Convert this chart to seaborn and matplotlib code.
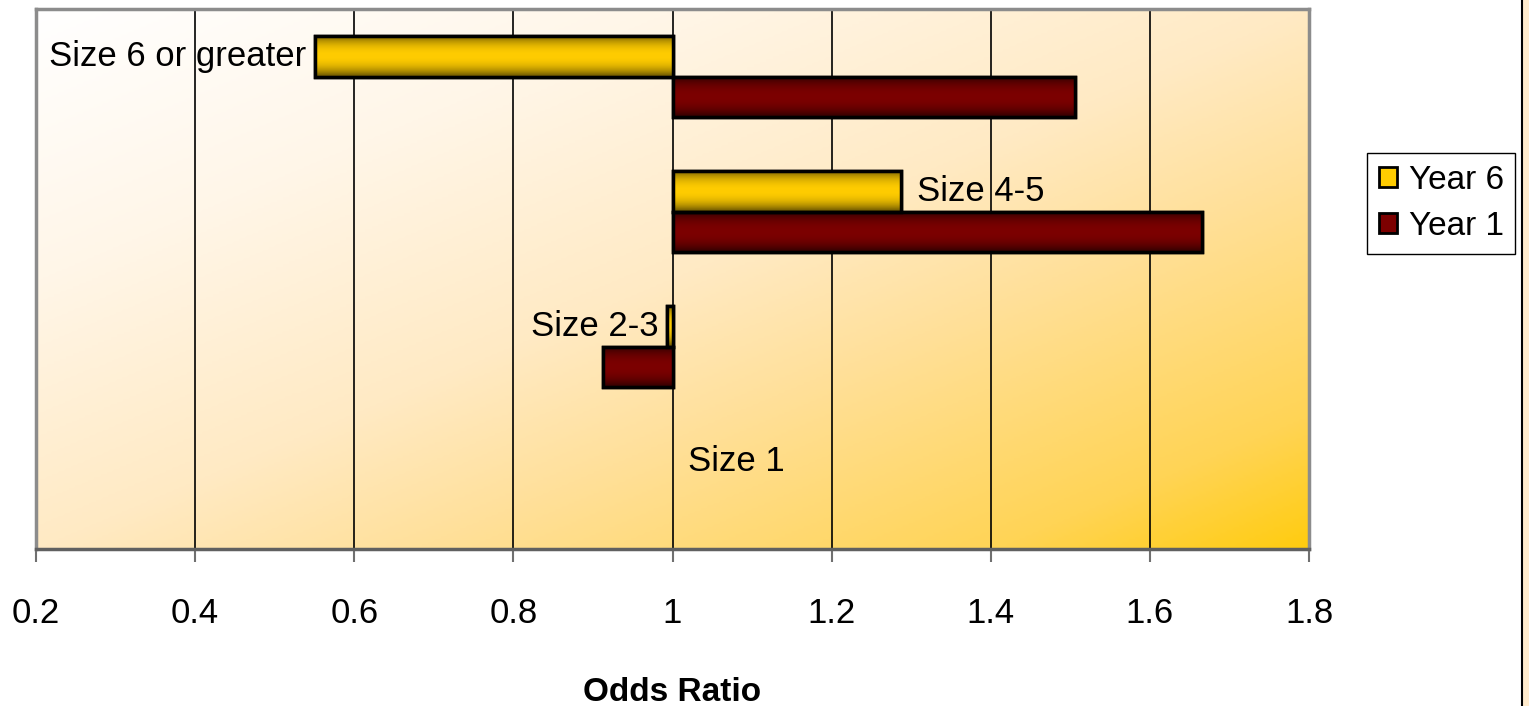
import numpy as np
import pandas as pd
import matplotlib
matplotlib.use("Agg")
import matplotlib.pyplot as plt
import seaborn as sns
from matplotlib.colors import LinearSegmentedColormap, to_rgb
from matplotlib.patches import Rectangle
from matplotlib.lines import Line2D

# ---- data -------------------------------------------------------------
categories = ["Size 6 or greater", "Size 4-5", "Size 2-3", "Size 1"]
series = ["Year 6", "Year 1"]
year6_or = [0.551, 1.287, 0.993, 1.0]
year1_or = [1.506, 1.666, 0.913, 1.0]
baseline = 1.0
xticks = [0.2, 0.4, 0.6, 0.8, 1.0, 1.2, 1.4, 1.6, 1.8]
xtick_labels = ["0.2", "0.4", "0.6", "0.8", "1", "1.2", "1.4", "1.6", "1.8"]

df = pd.DataFrame({
    "group": categories * 2,
    "series": [series[0]] * len(categories) + [series[1]] * len(categories),
    "odds": year6_or + year1_or,
})
df["span"] = df["odds"] - baseline

# ---- style ------------------------------------------------------------
sns.set_theme(style="white")
plt.rcParams["font.family"] = ["Liberation Sans", "DejaVu Sans"]
plt.rcParams["text.color"] = "black"

FS = 25
W, H = 1529, 706
fig = plt.figure(figsize=(W / 100, H / 100), dpi=100)
fig.patch.set_facecolor("white")
ax = fig.add_axes([36 / W, 1 - 549 / H, 1273 / W, 540 / H])

bar_colors = {"Year 6": ("#FFCC00", "#6E5800"), "Year 1": ("#7C0000", "#2E0000")}

sns.barplot(
    data=df, y="group", x="span", hue="series",
    order=categories, hue_order=series,
    palette={k: v[0] for k, v in bar_colors.items()},
    left=baseline, width=0.6, orient="h", errorbar=None,
    edgecolor="black", linewidth=2.5, legend=False, ax=ax,
)

# ---- shaded bar fills ---------------------------------------------------
def shade(center, edge, n=64):
    c = np.array(to_rgb(center))
    e = np.array(to_rgb(edge))
    t = np.linspace(-1, 1, n)
    w = 1 - np.abs(t) ** 2.2
    return (e[None, :] * (1 - w[:, None]) + c[None, :] * w[:, None])[:, None, :]

bars = [p for p in ax.patches if isinstance(p, Rectangle)]
n_cat = len(categories)
for k, p in enumerate(bars):
    name = series[k // n_cat]
    x0, w = p.get_x(), p.get_width()
    y0, h = p.get_y(), p.get_height()
    if abs(w) < 1e-9:
        p.set_visible(False)
        continue
    img = ax.imshow(shade(*bar_colors[name]), extent=[min(x0, x0 + w), max(x0, x0 + w), y0 + h, y0],
                    aspect="auto", zorder=p.get_zorder() + 0.1, interpolation="bilinear")
    img.set_clip_path(p)
    ax.add_patch(Rectangle((x0, y0), w, h, fill=False, edgecolor="black",
                           linewidth=2.5, zorder=p.get_zorder() + 0.2))

# ---- category labels beside the Year 6 bars ------------------------------
for k, (cat, v) in enumerate(zip(categories, year6_or)):
    p = bars[k]
    yc = p.get_y() + p.get_height() / 2
    if v < baseline:
        ax.text(v - 0.011, yc, cat, ha="right", va="center", fontsize=FS, color="black", zorder=5)
    else:
        ax.text(v + 0.02, yc, cat, ha="left", va="center", fontsize=FS, color="black", zorder=5)

# ---- plot-area gradient (white top-left to gold bottom-right) ------------
bg = LinearSegmentedColormap.from_list("bg", [
    (0.00, "#FFFFFF"), (0.25, "#FFF6E8"), (0.50, "#FFEAC4"),
    (0.65, "#FFE09A"), (0.88, "#FFD455"), (1.00, "#FFCC10")])
u = np.linspace(0, 1, 400)[None, :]
v = np.linspace(0, 1, 200)[:, None]
t = (u + v) / 2
ax.imshow(bg(t), extent=[0, 1, 0, 1], origin="upper", transform=ax.transAxes,
          aspect="auto", zorder=-2, interpolation="bilinear")

# ---- axes -------------------------------------------------------------
ax.set_xlim(0.2, 1.8)
ax.set_ylim(len(categories) - 0.5, -0.5)
ax.set_xticks(xticks)
ax.set_xticklabels(xtick_labels, fontsize=FS, color="black")
ax.set_yticks([])
ax.set_ylabel("")
ax.set_xlabel("Odds Ratio", fontsize=24, fontweight="bold", labelpad=34, color="black")
ax.set_axisbelow(True)
ax.xaxis.grid(True, color="black", linewidth=1.2)
ax.tick_params(axis="x", direction="out", length=9.5, width=1.5, color="#707070", pad=25, bottom=True)
for side in ["left", "top", "right"]:
    ax.spines[side].set_color("#8C8C8C")
    ax.spines[side].set_linewidth(2.5)
ax.spines["bottom"].set_color("#606060")
ax.spines["bottom"].set_linewidth(2.5)

# ---- legend -------------------------------------------------------------
handles = [Rectangle((0, 0), 1, 1, facecolor=bar_colors[s][0], edgecolor="black", linewidth=2)
           for s in series]
leg = fig.legend(handles, series, loc="center left",
                 bbox_to_anchor=(1367 / W, 1 - 203.5 / H),
                 fontsize=24, frameon=True, fancybox=False, framealpha=1,
                 edgecolor="black", handlelength=0.55, handleheight=0.55,
                 handletextpad=0.35, labelspacing=0.45, borderpad=0.35, borderaxespad=0)
leg.get_frame().set_linewidth(1)
for txt in leg.get_texts():
    txt.set_color("black")

# ---- slide edge strip --------------------------------------------------
fig.add_artist(Rectangle((1522 / W, 0), 1 - 1522 / W, 1, transform=fig.transFigure,
                         facecolor="#FFEBCD", edgecolor="none"))
fig.add_artist(Line2D([1521.5 / W] * 2, [0, 1], transform=fig.transFigure,
                      color="black", linewidth=1.5))

fig.savefig("out.png", dpi=100)
